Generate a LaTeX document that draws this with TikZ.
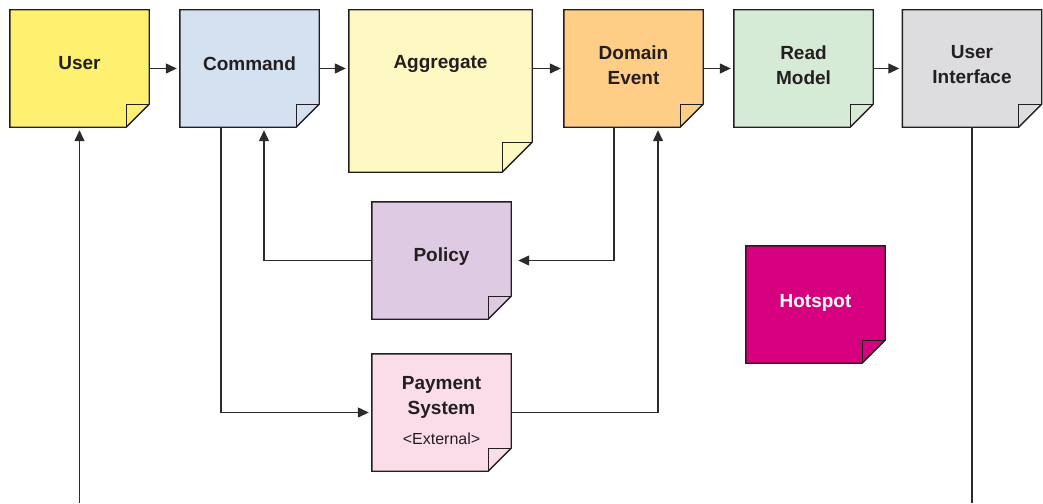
\documentclass[tikz,border=0pt]{standalone}
\usepackage{fontspec}
\setmainfont{Liberation Sans}
\usetikzlibrary{arrows.meta,backgrounds}

\definecolor{ink}{HTML}{231F20}
\definecolor{wire}{HTML}{2B2B2B}
\definecolor{cUser}{HTML}{FEF16F}
\definecolor{cCommand}{HTML}{D3E1F1}
\definecolor{cAggregate}{HTML}{FEF8C2}
\definecolor{cEvent}{HTML}{FECD86}
\definecolor{cRead}{HTML}{D6EBD5}
\definecolor{cUI}{HTML}{DDDDDF}
\definecolor{cPolicy}{HTML}{DECBE3}
\definecolor{cHot}{HTML}{D6007E}
\definecolor{cPay}{HTML}{FBDDE9}

\tikzset{
  note/.style={rectangle, draw=none, inner sep=0pt, minimum width=139pt, minimum height=117pt},
  notetext/.style={font=\bfseries\fontsize{19}{25}\selectfont, text=ink, align=center, inner sep=0pt},
  noteline/.style={draw=ink, line width=1.4pt, line join=miter},
  arr/.style={draw=wire, line width=1.3pt, -{Triangle[length=11pt,width=10pt]}, shorten >=3pt},
  wireline/.style={draw=wire, line width=1.3pt},
}

% sticky note outline with a folded lower-right corner
\newcommand\stickynote[3]{%
  \filldraw[noteline, fill=#2]
    (#1.north west) -- (#1.north east) -- ([yshift=#3]#1.south east)
    -- ([xshift=-#3]#1.south east) -- (#1.south west) -- cycle;
  \draw[noteline] ([xshift=-#3]#1.south east) -- ([xshift=-#3,yshift=#3]#1.south east)
    -- ([yshift=#3]#1.south east);
}

\begin{document}
\begin{tikzpicture}[x=1pt,y=-1pt]
\useasboundingbox (0,0) rectangle (1043,503);

% note bodies
\node[note] (user) at (79.5,68.5) {};
\node[note] (command) at (249.5,68.5) {};
\node[note, minimum width=183pt, minimum height=162pt] (aggregate) at (440.5,91) {};
\node[note] (event) at (633.5,68.5) {};
\node[note] (read) at (803.5,68.5) {};
\node[note] (ui) at (972,68.5) {};
\node[note] (policy) at (441.5,260.5) {};
\node[note] (hotspot) at (815.5,304.5) {};
\node[note] (payment) at (441.5,412.5) {};

\begin{scope}[on background layer]
  \stickynote{user}{cUser}{23pt}
  \stickynote{command}{cCommand}{23pt}
  \stickynote{aggregate}{cAggregate}{30pt}
  \stickynote{event}{cEvent}{23pt}
  \stickynote{read}{cRead}{23pt}
  \stickynote{ui}{cUI}{23pt}
  \stickynote{policy}{cPolicy}{23pt}
  \stickynote{hotspot}{cHot}{23pt}
  \stickynote{payment}{cPay}{23pt}
\end{scope}

% labels
\node[notetext] (user-t) at ([yshift=-53.5pt]user.north) {User};
\node[notetext] (command-t) at ([yshift=-53.5pt]command.north) {Command};
\node[notetext] (aggregate-t) at ([yshift=-54.5pt]aggregate.north) {Aggregate};
\node[notetext] (event-t) at ([yshift=-55pt]event.north) {Domain\\Event};
\node[notetext] (read-t) at ([yshift=-55pt]read.north) {Read\\Model};
\node[notetext] (ui-t) at ([yshift=-55pt]ui.north) {User\\Interface};
\node[notetext] (policy-t) at ([yshift=-54.5pt]policy.north) {Policy};
\node[notetext, text=white] (hotspot-t) at ([yshift=-57.5pt]hotspot.north) {Hotspot};
\node[notetext] (payment-t) at ([yshift=-44pt]payment.north) {Payment\\System};
\node[font=\fontsize{16}{20}\selectfont, text=ink, inner sep=0pt] (payment-x)
  at ([yshift=-85pt]payment.north) {<External>};

% free ends at the lower edge
\coordinate (userin) at (79.5,503);
\coordinate (uiout) at (972,503);

% flow along the top row
\draw[arr] (user.east) -- (command.west);
\draw[arr] (command.east) -- (aggregate.west |- command.east);
\draw[arr] (aggregate.east |- event.west) -- (event.west);
\draw[arr] (event.east) -- (read.west);
\draw[arr] (read.east) -- (ui.west);

% loops below the row
\draw[arr] (userin) -- (user.south);
\draw[wireline] (ui.south) -- (uiout);
\draw[arr] ([xshift=-28.5pt]command.south) |- (payment.west);
\draw[arr] (policy.west) -| ([xshift=14.5pt]command.south);
\draw[arr] ([xshift=-19.5pt]event.south) |- ([xshift=4pt]policy.east);
\draw[arr] (payment.east) -| ([xshift=24.5pt]event.south);
\end{tikzpicture}
\end{document}
